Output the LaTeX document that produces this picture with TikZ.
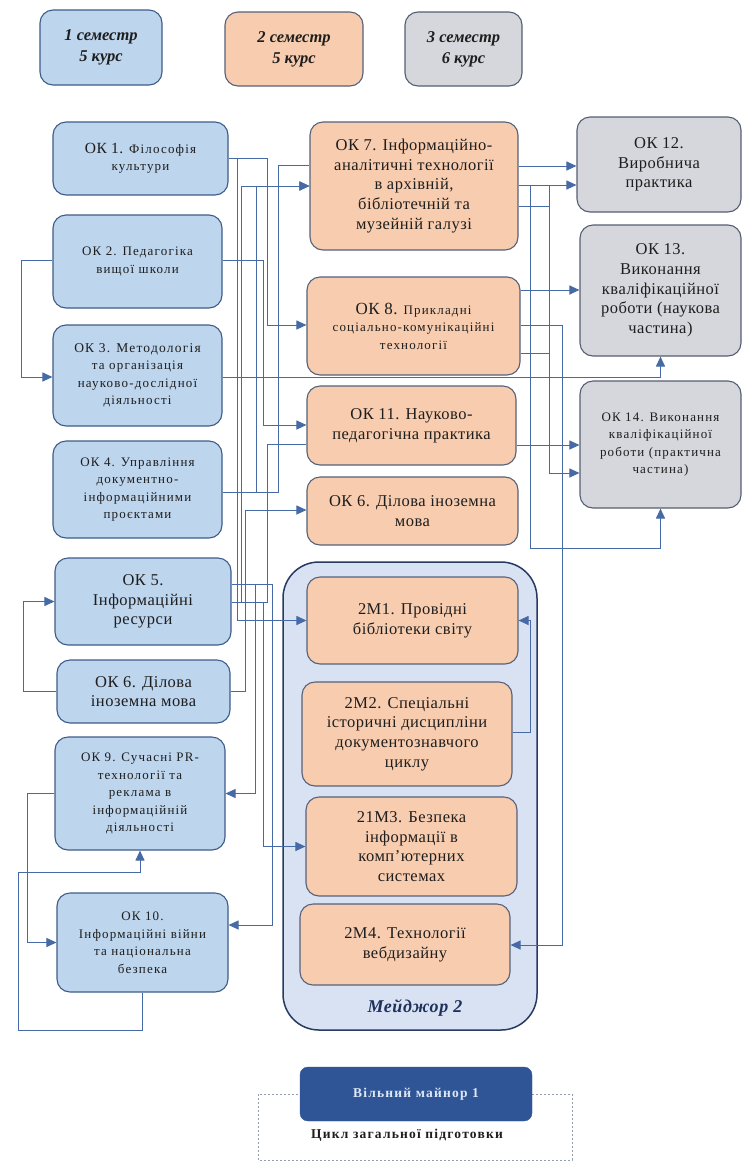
\documentclass[tikz,border=0pt]{standalone}
\usepackage{fontspec}
\setmainfont{Liberation Serif}
\newfontfamily\widefont[LetterSpace=9]{Liberation Serif}
\newfontfamily\midfont[LetterSpace=3]{Liberation Serif}
\usetikzlibrary{arrows.meta}
\definecolor{boxblue}{RGB}{189,213,237}
\definecolor{bluebd}{RGB}{62,92,138}
\definecolor{boxorange}{RGB}{248,204,175}
\definecolor{orangebd}{RGB}{85,98,122}
\definecolor{boxgray}{RGB}{213,215,220}
\definecolor{graybd}{RGB}{85,95,115}
\definecolor{contfill}{RGB}{217,226,243}
\definecolor{contbd}{RGB}{38,58,98}
\definecolor{minorfill}{RGB}{47,85,151}
\definecolor{minortext}{RGB}{222,232,247}
\definecolor{conncol}{RGB}{70,106,166}
\definecolor{txt}{RGB}{30,30,30}
\definecolor{dashcol}{RGB}{150,158,172}
\definecolor{navy}{RGB}{31,48,90}
\pgfdeclarelayer{bg}
\pgfdeclarelayer{mid}
\pgfsetlayers{bg,mid,main}
\tikzset{
  box/.style={rounded corners=13pt, line width=1.1pt, align=center, inner sep=2pt, text=txt},
  bl/.style={box, draw=bluebd, fill=boxblue},
  orb/.style={box, draw=orangebd, fill=boxorange},
  grb/.style={box, draw=graybd, fill=boxgray},
  conn/.style={draw=conncol, line width=1pt},
  arr/.style={conn, -{Triangle[length=10pt,width=9pt]}},
  big/.style={font=\midfont\fontsize{16.5}{19.7}\selectfont},
  small/.style={font=\widefont\fontsize{13}{17.5}\selectfont},
  head/.style={font=\fontsize{16.5}{21}\selectfont\bfseries\itshape}
}
\begin{document}
\begin{tikzpicture}[x=1pt,y=1pt]
\useasboundingbox (0,0) rectangle (743,-1168);
\begin{pgfonlayer}{bg}
\fill[white] (0,0) rectangle (743,-1168);
\end{pgfonlayer}

% headers
\node[bl, head, minimum width=122pt, minimum height=75pt] (h1) at (101,-47.5) {1 семестр\\5 курс};
\node[orb, head, minimum width=138pt, minimum height=74pt] (h2) at (294,-49) {2 семестр\\5 курс};
\node[grb, head, minimum width=117pt, minimum height=74pt] (h3) at (463.5,-49) {3 семестр\\6 курс};

% left column
\node[bl, small, minimum width=175pt, minimum height=73pt] (ok1) at (140.5,-158.5) {{\midfont\fontsize{15.5}{17}\selectfont ОК 1.} Філософія\\культури};
\node[bl, small, minimum width=169pt, minimum height=93pt] (ok2) at (137.5,-261.5) {ОК 2. Педагогіка\\вищої школи};
\node[bl, small, minimum width=169pt, minimum height=101pt] (ok3) at (137.5,-375.5) {\widefont\fontsize{13.5}{18}\selectfont ОК 3. Методологія\\та організація\\науково-дослідної\\діяльності};
\node[bl, small, minimum width=169pt, minimum height=97pt] (ok4) at (137.5,-489.5) {ОК 4. Управління\\документно-\\інформаційними\\проєктами};
\node[bl, big, minimum width=176pt, minimum height=87pt] (ok5) at (143,-601.5) {ОК 5.\\Інформаційні\\ресурси};
\node[bl, big, minimum width=173pt, minimum height=63pt] (ok6a) at (143.5,-691.5) {ОК 6. Ділова\\іноземна мова};
\node[bl, small, minimum width=170pt, minimum height=113pt] (ok9) at (140,-793.5) {ОК 9. Сучасні PR-\\технології та\\реклама в\\інформаційній\\діяльності};
\node[bl, small, minimum width=171pt, minimum height=99pt] (ok10) at (142.5,-942.5) {ОК 10.\\Інформаційні війни\\та національна\\безпека};

% major container
\begin{pgfonlayer}{bg}
\node[rounded corners=36pt, draw=contbd, fill=contfill, line width=1.5pt, minimum width=254pt, minimum height=468pt] (major) at (410,-796) {};
\end{pgfonlayer}
\node[text=navy, font=\midfont\fontsize{18}{20}\selectfont\bfseries\itshape] (majlab) at (415,-1008) {Мейджор 2};

% middle column
\node[orb, big, minimum width=208pt, minimum height=128pt] (ok7) at (414,-186) {ОК 7. Інформаційно-\\аналітичні технології\\в архівній,\\бібліотечній та\\музейній галузі};
\node[orb, small, minimum width=213pt, minimum height=98pt] (ok8) at (413.5,-326) {{\midfont\fontsize{17}{19}\selectfont ОК 8.} Прикладні\\соціально-комунікаційні\\технології};
\node[orb, big, minimum width=209pt, minimum height=79pt] (ok11) at (411.5,-425.5) {ОК 11. Науково-\\педагогічна практика};
\node[orb, big, minimum width=211pt, minimum height=68pt] (ok6b) at (412.5,-511) {ОК 6. Ділова іноземна\\мова};
\node[orb, big, minimum width=211pt, minimum height=87pt] (m1) at (412.5,-620.5) {2М1. Провідні\\бібліотеки світу};
\node[orb, big, minimum width=210pt, minimum height=104pt] (m2) at (407,-734) {2М2. Спеціальні\\історичні дисципліни\\документознавчого\\циклу};
\node[orb, big, minimum width=211pt, minimum height=99pt] (m3) at (411.5,-846.5) {21М3. Безпека\\інформації в\\комп’ютерних\\системах};
\node[orb, big, minimum width=210pt, minimum height=81pt] (m4) at (405,-944.5) {2М4. Технології\\вебдизайну};

% right column
\node[grb, big, minimum width=164pt, minimum height=95pt] (ok12) at (659,-164.5) {ОК 12.\\Виробнича\\практика};
\node[grb, big, minimum width=161pt, minimum height=131pt] (ok13) at (660.5,-290.5) {ОК 13.\\Виконання\\кваліфікаційної\\роботи (наукова\\частина)};
\node[grb, small, minimum width=161pt, minimum height=127pt] (ok14) at (660.5,-444.5) {ОК 14. Виконання\\кваліфікаційної\\роботи (практична\\частина)};

% bottom
\draw[dashcol, line width=0.9pt, dash pattern=on 2pt off 2pt] (258,-1094) rectangle (572,-1160);
\node[rounded corners=8pt, fill=minorfill, draw=minorfill, text=minortext, font=\widefont\fontsize{13.5}{15}\selectfont\bfseries, minimum width=232pt, minimum height=54pt] (minor) at (416,-1094) {Вільний майнор 1};
\node[font=\widefont\fontsize{13.5}{15}\selectfont\bfseries, text=txt] (cycle) at (407,-1135) {Цикл загальної підготовки};

% connectors
\begin{pgfonlayer}{mid}
% left channel
\draw[arr] (ok1.east) -- (267,-158.5) -- (267,-325) -- (ok8.west |- 0,-325);
\draw[arr] (ok1.east) -- (237,-158.5) -- (237,-620.5) -- (m1.west);
\draw[arr] (ok5.east |- 0,-602) -- (241,-602) -- (241,-186) -- (ok7.west);
\draw[arr] (ok4.east |- 0,-492) -- (256,-492) -- (256,-186) -- (ok7.west);
\draw[conn] (ok4.east |- 0,-492) -- (278,-492) -- (278,-165) -- (ok7.west |- 0,-165);
\draw[arr] (ok2.east |- 0,-260) -- (263,-260) -- (263,-425) -- (ok11.west |- 0,-425);
\draw[conn] (ok5.east |- 0,-602) -- (267,-602) -- (267,-444) -- (ok11.west |- 0,-444);
\draw[arr] (ok6a.east) -- (245,-691.5) -- (245,-510) -- (ok6b.west |- 0,-510);
\draw[arr] (ok2.west |- 0,-260) -- (21,-260) -- (21,-377) -- (ok3.west |- 0,-377);
\draw[arr] (ok3.east |- 0,-377) -| (ok13.south);
\draw[arr] (ok5.east |- 0,-584) -- (255,-584) -- (255,-793.5) -- (ok9.east);
\draw[arr] (ok5.east |- 0,-602) -- (263,-602) -- (263,-846.5) -- (m3.west);
\draw[arr] (ok5.east |- 0,-584) -- (272,-584) -- (272,-925) -- (ok10.east |- 0,-925);
\draw[arr] (ok9.west) -- (27,-793.5) -- (27,-942.5) -- (ok10.west);
\draw[arr] (ok10.south) -- (142.5,-1030) -- (18,-1030) -- (18,-872) -- (140,-872) -- (ok9.south);
\draw[arr] (ok6a.west) -- (23,-691.5) -- (23,-601.5) -- (ok5.west);
% right channel
\draw[arr] (ok7.east |- 0,-166) -- (ok12.west |- 0,-166);
\draw[arr] (ok7.east |- 0,-185) -- (ok12.west |- 0,-185);
\draw[arr] (ok7.east |- 0,-185) -- (530,-185) -- (530,-548) -| (ok14.south);
\draw[arr] (ok7.east |- 0,-185) -- (549,-185) -- (549,-473) -- (ok14.west |- 0,-473);
\draw[conn] (ok7.east |- 0,-206) -- (549,-206);
\draw[arr] (ok8.east |- 0,-290) -- (ok13.west |- 0,-290);
\draw[arr] (ok8.east |- 0,-325) -- (562,-325) -- (562,-945) -- (m4.east |- 0,-945);
\draw[conn] (ok8.east |- 0,-353) -- (549,-353);
\draw[arr] (ok11.east |- 0,-445) -- (ok14.west |- 0,-445);
\draw[arr] (m2.east |- 0,-732) -- (530,-732) -- (530,-620.5) -- (m1.east);
\end{pgfonlayer}
\end{tikzpicture}
\end{document}
